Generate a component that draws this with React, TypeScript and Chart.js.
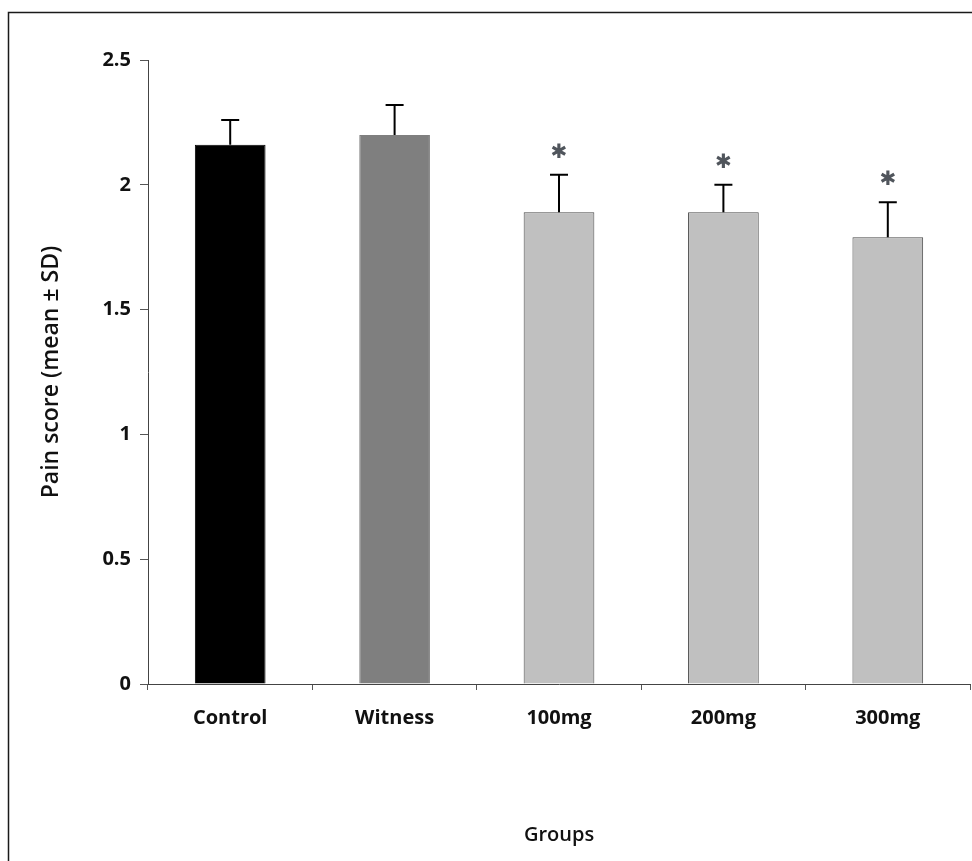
import React, { useEffect, useRef } from 'react';
import { Chart, registerables } from 'chart.js';

Chart.register(...registerables);

const categories = ['Control', 'Witness', '100mg', '200mg', '300mg'];
const meanValues = [2.16, 2.2, 1.89, 1.89, 1.79];
const sdValues = [0.1, 0.12, 0.15, 0.11, 0.14];
const significant = [false, false, true, true, true];
const barColors = ['#000000', '#7f7f7f', '#c0c0c0', '#c0c0c0', '#c0c0c0'];
const barBorderColors = ['#000000', '#7f7f7f', '#4a4a4a', '#4a4a4a', '#4a4a4a'];
const yMin = 0;
const yMax = 2.5;
const yStep = 0.5;
const yAxisTitle = 'Pain score (mean \u00B1 SD)';
const xAxisTitle = 'Groups';
const sigMark = '\u2731';

const framePlugin = {
  id: 'frame',
  beforeDraw(chart: any) {
    const ctx = chart.ctx;
    ctx.save();
    ctx.strokeStyle = '#1a1a1a';
    ctx.lineWidth = 1.5;
    ctx.beginPath();
    ctx.moveTo(8.5, chart.height);
    ctx.lineTo(8.5, 12.5);
    ctx.lineTo(chart.width, 12.5);
    ctx.stroke();
    ctx.restore();
  },
};

const errorBarPlugin = {
  id: 'errorBars',
  afterDatasetsDraw(chart: any) {
    const ctx = chart.ctx;
    const yScale = chart.scales.y;
    const meta = chart.getDatasetMeta(0);
    ctx.save();
    meta.data.forEach((bar: any, i: number) => {
      const x = bar.x;
      const yTop = yScale.getPixelForValue(meanValues[i]);
      const yCap = yScale.getPixelForValue(meanValues[i] + sdValues[i]);
      ctx.strokeStyle = '#000000';
      ctx.lineWidth = 2;
      ctx.beginPath();
      ctx.moveTo(x, yTop);
      ctx.lineTo(x, yCap);
      ctx.moveTo(x - 9, yCap);
      ctx.lineTo(x + 9, yCap);
      ctx.stroke();
      if (significant[i]) {
        ctx.fillStyle = '#50555c';
        ctx.font = '20px "DejaVu Sans"';
        ctx.textAlign = 'center';
        ctx.textBaseline = 'middle';
        ctx.fillText(sigMark, x, yCap - 22);
      }
    });
    ctx.restore();
  },
};

export default function App() {
  const canvasRef = useRef<HTMLCanvasElement | null>(null);

  useEffect(() => {
    if (!canvasRef.current) return;
    const chart = new Chart(canvasRef.current, {
      type: 'bar',
      data: {
        labels: categories,
        datasets: [
          {
            data: meanValues,
            backgroundColor: barColors,
            borderColor: barBorderColors,
            borderWidth: 1,
            borderSkipped: 'bottom',
            barPercentage: 0.43,
            categoryPercentage: 1,
          },
        ],
      },
      options: {
        responsive: false,
        animation: false,
        devicePixelRatio: 1,
        layout: { padding: { top: 60, left: 0, right: 2, bottom: 0 } },
        plugins: {
          legend: { display: false },
          tooltip: { enabled: false },
        },
        scales: {
          x: {
            grid: {
              display: true,
              offset: true,
              drawOnChartArea: false,
              drawTicks: true,
              tickLength: 6,
              color: '#555555',
              tickColor: '#555555',
            },
            border: { display: true, color: '#444444', width: 1 },
            ticks: {
              color: '#111111',
              padding: 16,
              font: { family: '"Open Sans"', size: 20, weight: 'bold' },
            },
            title: {
              display: true,
              text: xAxisTitle,
              color: '#111111',
              padding: { top: 0, bottom: 14 },
              font: { family: '"Open Sans"', size: 20, weight: 600, lineHeight: 1.2 },
            },
            afterFit(scale: any) {
              scale.height = 177;
            },
          },
          y: {
            min: yMin,
            max: yMax,
            ticks: {
              stepSize: yStep,
              color: '#111111',
              padding: 9,
              font: { family: '"Open Sans"', size: 20, weight: 'bold' },
              callback: (value: any) => String(value),
            },
            grid: {
              display: true,
              drawOnChartArea: false,
              drawTicks: true,
              tickLength: 8,
              color: '#555555',
              tickColor: '#555555',
            },
            border: { display: true, color: '#444444', width: 1 },
            title: {
              display: true,
              text: yAxisTitle,
              color: '#111111',
              padding: { top: 38, bottom: 0 },
              font: { family: '"Open Sans"', size: 23, weight: 600, lineHeight: 1.2 },
            },
            afterFit(scale: any) {
              scale.width = 148;
            },
          },
        },
      },
      plugins: [framePlugin, errorBarPlugin],
    } as any);
    return () => chart.destroy();
  }, []);

  return (
    <div style={{ position: 'absolute', left: 0, top: 0, width: 972, height: 861, background: '#ffffff' }}>
      <canvas ref={canvasRef} width={972} height={861} style={{ display: 'block' }} />
    </div>
  );
}
